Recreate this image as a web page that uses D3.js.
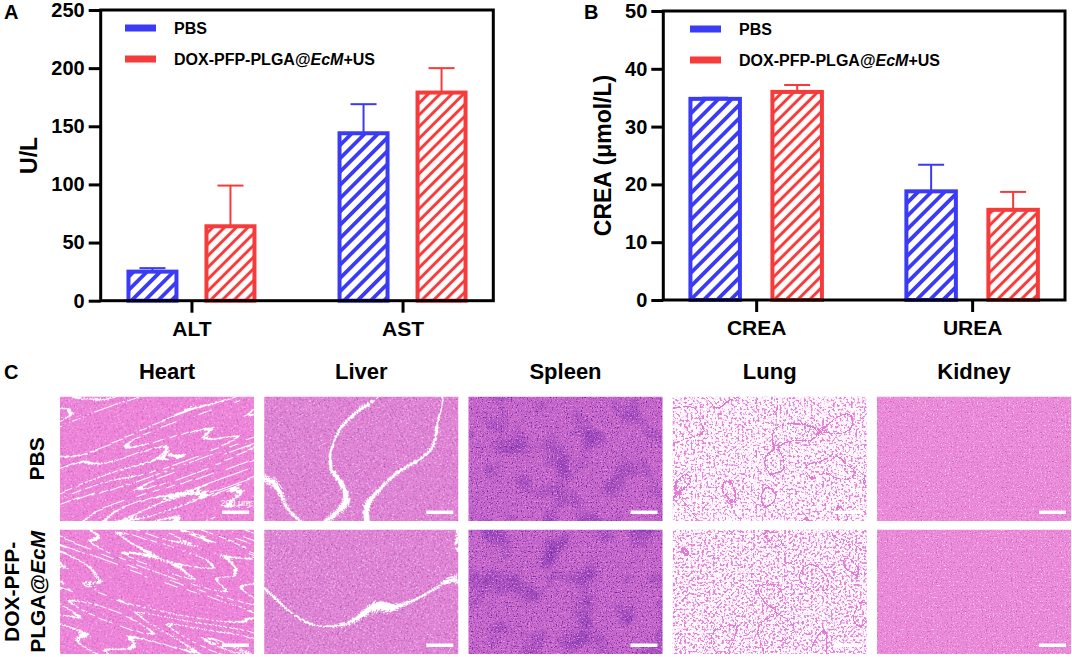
<!DOCTYPE html>
<html>
<head>
<meta charset="utf-8">
<script src="https://cdn.jsdelivr.net/npm/d3@7"></script>
<style>
  body { margin: 0; background: #fff; }
  svg { display: block; font-family: Arial, "Liberation Sans", Helvetica, sans-serif; }
  .axis text { font-size: 20px; font-weight: bold; fill: #000; }
  .axis line { stroke: #000; stroke-width: 3px; }
  .bold { font-weight: bold; fill: #000; }
</style>
</head>
<body>
<script>

// ---- data ----
var groups = ["PBS", "DOX-PFP-PLGA@EcM+US"];
var colors = ["#3b3bf6", "#f63b3b"];

var liverCategories = ["ALT", "AST"];
var liverPBS = [25, 144],   liverPBSsd = [3, 25];
var liverDOX = [64, 179],   liverDOXsd = [35, 21];
var liverTicks = [0, 50, 100, 150, 200, 250];

var kidneyCategories = ["CREA", "UREA"];
var kidneyPBS = [34.8, 18.8], kidneyPBSsd = [0.2, 4.6];
var kidneyDOX = [36.0, 15.6], kidneyDOXsd = [1.2, 3.1];
var kidneyTicks = [0, 10, 20, 30, 40, 50];

var organs = ["Heart", "Liver", "Spleen", "Lung", "Kidney"];
var treatments = ["PBS", "DOX"];

var width = 1072, height = 657;

var svg = d3.select("body").append("svg")
	.attr("width", width)
	.attr("height", height);

var defs = svg.append("defs");

// hatch patterns for the bars
function hatch(id, color, size, sw) {
	var p = defs.append("pattern")
		.attr("id", id)
		.attr("patternUnits", "userSpaceOnUse")
		.attr("width", size)
		.attr("height", size)
		.attr("patternTransform", "rotate(45)");
	p.append("rect").attr("width", size).attr("height", size).attr("fill", "#fff");
	p.append("line")
		.attr("x1", size / 2).attr("x2", size / 2)
		.attr("y1", -1).attr("y2", size + 1)
		.attr("stroke", color)
		.attr("stroke-width", sw);
}
hatch("hatch0", colors[0], 9.4, 3.8);
hatch("hatch1", colors[1], 8.3, 3);

function barPanel(opt) {
	var g = svg.append("g");

	var x = d3.scalePoint().domain(opt.categories).range([opt.left, opt.right]).padding(0.43);
	var y = d3.scaleLinear().domain([0, opt.ticks[opt.ticks.length - 1]]).range([opt.bottom, opt.top]);
	var sub = d3.scaleBand().domain(groups)
		.range([-(opt.offset + opt.bw / 2), opt.offset + opt.bw / 2])
		.paddingInner((2 * opt.offset - opt.bw) / (2 * opt.offset));

	var rows = [];
	opt.categories.forEach(function(c, i) {
		opt.means.forEach(function(m, j) {
			rows.push({ cat: c, group: groups[j], gi: j, mean: m[i], sd: opt.sds[j][i] });
		});
	});

	function mid(d) { return x(d.cat) + sub(d.group) + sub.bandwidth() / 2; }

	// error bars (upper only)
	var eb = g.selectAll(".err").data(rows).enter().append("g")
		.attr("stroke", function(d) { return colors[d.gi]; })
		.attr("stroke-width", 2);
	eb.append("line")
		.attr("x1", mid).attr("x2", mid)
		.attr("y1", function(d) { return y(d.mean); })
		.attr("y2", function(d) { return y(d.mean + d.sd); });
	eb.append("line")
		.attr("x1", function(d) { return mid(d) - 13; })
		.attr("x2", function(d) { return mid(d) + 13; })
		.attr("y1", function(d) { return y(d.mean + d.sd); })
		.attr("y2", function(d) { return y(d.mean + d.sd); });

	g.selectAll(".bar").data(rows).enter().append("rect")
		.attr("x", function(d) { return x(d.cat) + sub(d.group); })
		.attr("y", function(d) { return y(d.mean); })
		.attr("width", sub.bandwidth())
		.attr("height", function(d) { return y(0) - y(d.mean); })
		.attr("fill", function(d) { return "url(#hatch" + d.gi + ")"; })
		.attr("stroke", function(d) { return colors[d.gi]; })
		.attr("stroke-width", 4);

	// frame
	g.append("rect")
		.attr("x", opt.left).attr("y", opt.top)
		.attr("width", opt.right - opt.left).attr("height", opt.bottom - opt.top)
		.attr("fill", "none").attr("stroke", "#000").attr("stroke-width", 3);

	var ya = g.append("g").attr("class", "axis")
		.attr("transform", "translate(" + opt.left + ",0)")
		.call(d3.axisLeft(y).tickValues(opt.ticks).tickSize(12).tickPadding(4).tickSizeOuter(0));
	ya.select(".domain").remove();

	var xa = g.append("g").attr("class", "axis")
		.attr("transform", "translate(0," + opt.bottom + ")")
		.call(d3.axisBottom(x).tickSize(12).tickSizeOuter(0));
	xa.select(".domain").remove();
	xa.selectAll("text").style("font-size", "21px").attr("y", 35).attr("dy", 0);

	g.append("text").attr("class", "bold")
		.attr("transform", "translate(" + opt.titleX + "," + ((opt.top + opt.bottom) / 2) + ") rotate(-90)")
		.attr("text-anchor", "middle")
		.attr("dy", "0.36em")
		.style("font-size", "23px")
		.text(opt.title);

	g.append("text").attr("class", "bold")
		.attr("x", opt.letterX).attr("y", 19)
		.style("font-size", "20px")
		.text(opt.letter);

	// legend
	var lg = g.selectAll(".leg").data(groups).enter().append("g")
		.attr("transform", function(d, i) { return "translate(" + opt.legX + "," + (opt.top + 18 + i * 31) + ")"; });
	lg.append("rect")
		.attr("x", 0).attr("y", -3.5).attr("width", 31).attr("height", 7)
		.attr("fill", function(d, i) { return colors[i]; });
	var lt = lg.append("text").attr("class", "bold")
		.attr("x", 49).attr("dy", "0.36em")
		.style("font-size", "16px");
	lt.filter(function(d, i) { return i === 0; }).text(function(d) { return d; });
	lt.filter(function(d, i) { return i === 1; }).each(function() {
		var t = d3.select(this);
		t.append("tspan").text("DOX-PFP-PLGA@");
		t.append("tspan").style("font-style", "italic").text("EcM");
		t.append("tspan").text("+US");
	});
}

barPanel({
	left: 100.7, right: 493.3, top: 10, bottom: 300.7,
	categories: liverCategories, ticks: liverTicks,
	means: [liverPBS, liverDOX], sds: [liverPBSsd, liverDOXsd],
	offset: 39, bw: 48, title: "U/L", titleX: 29,
	letter: "A", letterX: 4, legX: 125
});

barPanel({
	left: 663.3, right: 1065, top: 11, bottom: 300,
	categories: kidneyCategories, ticks: kidneyTicks,
	means: [kidneyPBS, kidneyDOX], sds: [kidneyPBSsd, kidneyDOXsd],
	offset: 41, bw: 49.5, title: "CREA (\u03bcmol/L)", titleX: 603,
	letter: "B", letterX: 584, legX: 690
});

// ---- panel C: H&E sections, drawn as procedural textures ----
// each layer turns a noise field into a coloured overlay
var tissue = {
	Heart: {
		base: "#ef84da",
		layers: [
			{ freq: "0.75", color: "#b04aac", k: 4, t: 0.57 },
			{ freq: "0.7", color: "#ffffff", k: 3, t: 0.58 },
			{ freq: "0.004 0.03", oct: 2, color: "#ffffff", k: 1, t: 0,
			  table: band(90, [34, 43, 52, 61]) }
		],
		rotate: -20
	},
	Liver: {
		base: "#e283d6",
		layers: [
			{ freq: "0.8", color: "#9c44a4", k: 4, t: 0.55 },
			{ freq: "0.75", color: "#ffffff", k: 3.5, t: 0.57 },
			{ freq: "0.008", oct: 2, color: "#ffffff", k: 1, t: 0,
			  table: band(80, [37]) }
		],
		rotate: 60
	},
	Spleen: {
		base: "#c466ca",
		layers: [
			{ freq: "0.035", oct: 2, color: "#8638b4", k: 2.5, t: 0.5 },
			{ freq: "0.8", color: "#6a26a2", k: 5, t: 0.55 },
			{ freq: "0.75", color: "#f48ede", k: 5, t: 0.55 }
		],
		rotate: 0
	},
	Lung: {
		base: "#fef8fd",
		layers: [
			{ freq: "0.45", oct: 2, color: "#e282d8", k: 8, t: 0.53 },
			{ freq: "0.02", oct: 2, color: "#e07ad4", k: 1, t: 0,
			  table: band(80, [27, 52]) }
		],
		rotate: 0
	},
	Kidney: {
		base: "#ec8ad9",
		layers: [
			{ freq: "0.8", color: "#b85cb4", k: 4, t: 0.56 },
			{ freq: "0.75", color: "#ffffff", k: 3, t: 0.58 }
		],
		rotate: 0
	}
};

// discrete alpha table that is 1 only in the listed slots
function band(n, on) {
	var v = [];
	for (var i = 0; i < n; i++) v.push(on.indexOf(i) >= 0 ? 1 : 0);
	return v.join(" ");
}

function tissueFilter(id, spec, seed, shift) {
	var f = defs.append("filter").attr("id", id)
		.attr("x", 0).attr("y", 0).attr("width", 1).attr("height", 1)
		.attr("color-interpolation-filters", "sRGB");
	f.append("feFlood").attr("flood-color", spec.base).attr("result", "base");
	var last = "base";
	spec.layers.forEach(function(L, i) {
		var c = d3.rgb(L.color);
		var t = L.t + (L.table ? 0 : shift);
		f.append("feTurbulence")
			.attr("type", "fractalNoise")
			.attr("baseFrequency", L.freq)
			.attr("numOctaves", L.oct || 1)
			.attr("seed", seed + i * 11)
			.attr("result", "n" + i);
		f.append("feColorMatrix").attr("in", "n" + i).attr("type", "matrix")
			.attr("values", [0, 0, 0, 0, c.r / 255, 0, 0, 0, 0, c.g / 255, 0, 0, 0, 0, c.b / 255,
				L.k, 0, 0, 0, -L.k * t].join(" "))
			.attr("result", "c" + i);
		var src = "c" + i;
		if (L.table) {
			f.append("feComponentTransfer").attr("in", src).attr("result", "d" + i)
				.append("feFuncA").attr("type", "discrete").attr("tableValues", L.table);
			src = "d" + i;
		}
		f.append("feComposite").attr("in", src).attr("in2", last).attr("operator", "over").attr("result", "m" + i);
		last = "m" + i;
	});
}

var col = d3.scaleBand().domain(organs).range([60, 1071]).paddingInner(0.05);
var row = d3.scaleBand().domain(treatments).range([396.7, 654]).paddingInner(0.065);

var gc = svg.append("g");

organs.forEach(function(o, i) {
	treatments.forEach(function(t, j) {
		var id = "tx-" + o + "-" + t;
		tissueFilter(id, tissue[o], 3 + i * 17 + j * 5, (j === 1 && o === "Lung") ? -0.02 : 0);
		defs.append("clipPath").attr("id", "clip-" + o + "-" + t)
			.append("rect")
			.attr("x", col(o)).attr("y", row(t))
			.attr("width", col.bandwidth()).attr("height", row.bandwidth());
		var cx = col(o) + col.bandwidth() / 2, cy = row(t) + row.bandwidth() / 2;
		var cell = gc.append("g").attr("clip-path", "url(#clip-" + o + "-" + t + ")");
		cell.append("rect")
			.attr("x", cx - 130).attr("y", cy - 130)
			.attr("width", 260).attr("height", 260)
			.attr("transform", "rotate(" + (tissue[o].rotate * (j === 1 ? -1 : 1)) + "," + cx + "," + cy + ")")
			.attr("filter", "url(#" + id + ")");
		// scale bar
		gc.append("rect")
			.attr("x", col(o) + col.bandwidth() - 32).attr("y", row(t) + row.bandwidth() - 10.5)
			.attr("width", 27).attr("height", 3.5)
			.attr("fill", "#fff");
	});
});

gc.append("text")
	.attr("x", col("Heart") + col.bandwidth() - 18.5)
	.attr("y", row("PBS") + row.bandwidth() - 15)
	.attr("text-anchor", "middle")
	.attr("fill", "#fff")
	.style("font-size", "9px")
	.text("200 \u03bcm");

gc.selectAll(".organ").data(organs).enter().append("text")
	.attr("class", "bold")
	.attr("x", function(d) { return col(d) + col.bandwidth() / 2 + (d === "Heart" ? 10 : 0); })
	.attr("y", 379)
	.attr("text-anchor", "middle")
	.style("font-size", "22px")
	.text(function(d) { return d; });

gc.append("text").attr("class", "bold")
	.attr("x", 4).attr("y", 379)
	.style("font-size", "20px")
	.text("C");

gc.append("text").attr("class", "bold")
	.attr("transform", "translate(44," + (row("PBS") + row.bandwidth() / 2) + ") rotate(-90)")
	.attr("text-anchor", "middle")
	.style("font-size", "21px")
	.text("PBS");

var rl = gc.append("text").attr("class", "bold")
	.attr("transform", "translate(19," + (row("DOX") + row.bandwidth() / 2) + ") rotate(-90)")
	.attr("text-anchor", "middle")
	.style("font-size", "21px");
rl.append("tspan").attr("x", 0).text("DOX-PFP-");
var l2 = rl.append("tspan").attr("x", 0).attr("dy", 26);
l2.append("tspan").text("PLGA@");
l2.append("tspan").style("font-style", "italic").text("EcM");

</script>
</body>
</html>
